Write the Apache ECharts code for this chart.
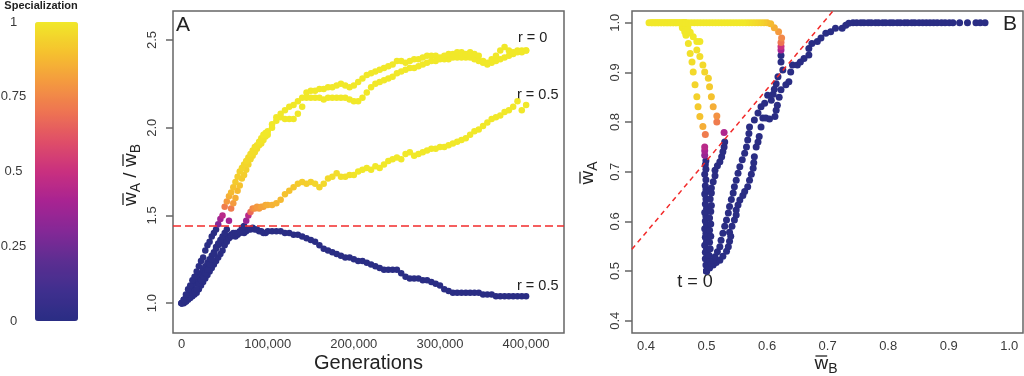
<!DOCTYPE html>
<html>
<head>
<meta charset="utf-8">
<script src="https://cdn.jsdelivr.net/npm/echarts@6/dist/echarts.min.js"></script>
<style>
  html, body { margin: 0; padding: 0; background: #fff; }
  #chart { width: 1024px; height: 376px; }
</style>
</head>
<body>
<div id="chart"></div>
<script>
// ---- panel A: fitness ratio over time ----
const gens = [
  0, 2500, 5000, 7500, 10000, 12500, 15000, 17500, 20000, 22500,
  25000, 27500, 30000, 32500, 35000, 37500, 40000, 42500, 45000, 47500,
  50000, 52500, 55000, 57500, 60000, 62500, 65000, 67500, 70000, 72500,
  75000, 77500, 80000, 82500, 85000, 87500, 90000, 92500, 95000, 97500,
  100000,
  105000, 110000, 115000, 120000, 125000, 130000, 135000, 140000, 145000, 150000,
  155000, 160000, 165000, 170000, 175000, 180000, 185000, 190000, 195000, 200000,
  205000, 210000, 215000, 220000, 225000, 230000, 235000, 240000, 245000, 250000,
  255000, 260000, 265000, 270000, 275000, 280000, 285000, 290000, 295000, 300000,
  305000, 310000, 315000, 320000, 325000, 330000, 335000, 340000, 345000, 350000,
  355000, 360000, 365000, 370000, 375000, 380000, 385000, 390000, 395000, 400000
];

// r = 0, first replicate
const ratioR0a = [
  1.00, 1.02, 1.05, 1.08, 1.10, 1.13, 1.15, 1.18, 1.21, 1.24,
  1.26, 1.30, 1.33, 1.35, 1.38, 1.40, 1.42, 1.45, 1.48, 1.50,
  1.55, 1.58, 1.61, 1.63, 1.66, 1.69, 1.72, 1.75, 1.77, 1.79,
  1.81, 1.83, 1.85, 1.87, 1.89, 1.90, 1.92, 1.94, 1.96, 1.97,
  1.98,
  2.02, 2.06, 2.08, 2.10, 2.12, 2.13, 2.15, 2.17, 2.20, 2.21,
  2.21, 2.22, 2.22, 2.23, 2.23, 2.24, 2.25, 2.24, 2.23, 2.24,
  2.26, 2.28, 2.30, 2.31, 2.32, 2.33, 2.34, 2.35, 2.36, 2.38,
  2.38, 2.37, 2.38, 2.39, 2.39, 2.40, 2.41, 2.41, 2.41, 2.40,
  2.41, 2.42, 2.42, 2.43, 2.43, 2.42, 2.43, 2.42, 2.41, 2.38,
  2.37, 2.39, 2.41, 2.44, 2.46, 2.44, 2.43, 2.44, 2.44, 2.44
];
const specR0a = [
  0, 0, 0, 0, 0, 0, 0, 0, 0, 0,
  0, 0, 0, 0, 0, 0, 0, 0.3, 0.38, 0.45,
  0.72, 0.8, 0.85, 0.88, 0.9, 0.92, 0.93, 0.94, 0.95, 0.95,
  0.96, 0.96, 0.97, 0.97, 0.98, 0.98, 0.99, 0.99, 1, 1,
  1,
  1, 1, 1, 1, 1, 1, 1, 1, 1, 1,
  1, 1, 1, 1, 1, 1, 1, 1, 1, 1,
  1, 1, 1, 1, 1, 1, 1, 1, 1, 1,
  1, 1, 1, 1, 1, 1, 1, 1, 1, 1,
  1, 1, 1, 1, 1, 1, 1, 1, 1, 1,
  1, 1, 1, 1, 1, 1, 1, 1, 1, 1
];

// r = 0, second replicate
const ratioR0b = [
  1.00, 1.01, 1.01, 1.03, 1.05, 1.06, 1.07, 1.08, 1.11, 1.13,
  1.15, 1.17, 1.19, 1.22, 1.25, 1.28, 1.32, 1.34, 1.36, 1.38,
  1.40, 1.42, 1.47, 1.54, 1.57, 1.60, 1.64, 1.67, 1.71, 1.73,
  1.76, 1.79, 1.82, 1.84, 1.86, 1.88, 1.90, 1.91, 1.93, 1.95,
  1.96,
  2.00, 2.04, 2.06, 2.05, 2.05, 2.05, 2.08, 2.12, 2.17, 2.17,
  2.17, 2.17, 2.16, 2.17, 2.17, 2.17, 2.17, 2.17, 2.16, 2.15,
  2.15, 2.17, 2.20, 2.23, 2.25, 2.26, 2.27, 2.28, 2.29, 2.31,
  2.32, 2.33, 2.34, 2.34, 2.35, 2.36, 2.37, 2.38, 2.38, 2.39,
  2.39, 2.39, 2.40, 2.40, 2.40, 2.40, 2.40, 2.39, 2.38, 2.37,
  2.36, 2.37, 2.38, 2.39, 2.40, 2.41, 2.42, 2.43, 2.43, 2.44
];
const specR0b = [
  0, 0, 0, 0, 0, 0, 0, 0, 0, 0,
  0, 0, 0, 0, 0, 0, 0, 0, 0, 0,
  0, 0, 0.4, 0.72, 0.8, 0.85, 0.88, 0.9, 0.92, 0.93,
  0.94, 0.95, 0.96, 0.96, 0.97, 0.97, 0.98, 0.98, 0.99, 0.99,
  1,
  1, 1, 1, 1, 1, 1, 1, 1, 1, 1,
  1, 1, 1, 1, 1, 1, 1, 1, 1, 1,
  1, 1, 1, 1, 1, 1, 1, 1, 1, 1,
  1, 1, 1, 1, 1, 1, 1, 1, 1, 1,
  1, 1, 1, 1, 1, 1, 1, 1, 1, 1,
  1, 1, 1, 1, 1, 1, 1, 1, 1, 1
];

// r = 0.5, run that specializes
const ratioR05s = [
  1.00, 1.00, 1.01, 1.02, 1.03, 1.04, 1.05, 1.06, 1.08, 1.10,
  1.12, 1.14, 1.16, 1.18, 1.20, 1.22, 1.24, 1.26, 1.28, 1.30,
  1.33, 1.35, 1.37, 1.38, 1.39, 1.40, 1.40, 1.41, 1.43, 1.44,
  1.47, 1.50, 1.52, 1.54, 1.54, 1.55, 1.54, 1.55, 1.55, 1.56,
  1.56,
  1.56, 1.57, 1.59, 1.62, 1.64, 1.66, 1.68, 1.69, 1.68, 1.69,
  1.68, 1.66, 1.68, 1.71, 1.72, 1.74, 1.72, 1.72, 1.73, 1.73,
  1.75, 1.76, 1.77, 1.76, 1.78, 1.77, 1.79, 1.81, 1.82, 1.83,
  1.82, 1.85, 1.86, 1.84, 1.85, 1.86, 1.87, 1.88, 1.88, 1.89,
  1.89, 1.90, 1.91, 1.92, 1.93, 1.94, 1.96, 1.98, 1.99, 2.01,
  2.03, 2.05, 2.06, 2.07, 2.09, 2.10, 2.12, 2.15, 2.10, 2.13
];
const specR05s = [
  0, 0, 0, 0, 0, 0, 0, 0, 0, 0,
  0, 0, 0, 0, 0, 0, 0, 0, 0, 0,
  0, 0, 0, 0, 0, 0, 0, 0, 0, 0,
  0.35, 0.45, 0.68, 0.75, 0.78, 0.8, 0.8, 0.82, 0.82, 0.84,
  0.85,
  0.86, 0.87, 0.88, 0.9, 0.9, 0.91, 0.92, 0.93, 0.93, 0.94,
  0.95, 0.95, 0.96, 0.96, 0.97, 0.97, 0.98, 0.98, 0.98, 0.99,
  1, 1, 1, 1, 1, 1, 1, 1, 1, 1,
  1, 1, 1, 1, 1, 1, 1, 1, 1, 1,
  1, 1, 1, 1, 1, 1, 1, 1, 1, 1,
  1, 1, 1, 1, 1, 1, 1, 1, 1, 1
];

// r = 0.5, run that stays generalist
const ratioR05u = [
  1.00, 1.02, 1.03, 1.05, 1.07, 1.09, 1.11, 1.13, 1.15, 1.17,
  1.19, 1.21, 1.23, 1.25, 1.27, 1.29, 1.31, 1.33, 1.34, 1.36,
  1.37, 1.38, 1.38, 1.39, 1.40, 1.38, 1.39, 1.40, 1.41, 1.40,
  1.41, 1.42, 1.42, 1.43, 1.42, 1.42, 1.41, 1.41, 1.40, 1.40,
  1.41,
  1.41, 1.41, 1.41, 1.40, 1.40, 1.39, 1.39, 1.38, 1.37, 1.36,
  1.35, 1.33, 1.31, 1.30, 1.29, 1.28, 1.27, 1.26, 1.26, 1.25,
  1.24, 1.24, 1.23, 1.22, 1.21, 1.20, 1.19, 1.19, 1.19, 1.19,
  1.17, 1.15, 1.14, 1.14, 1.14, 1.13, 1.13, 1.12, 1.11, 1.10,
  1.08, 1.07, 1.06, 1.06, 1.06, 1.06, 1.06, 1.06, 1.06, 1.05,
  1.05, 1.05, 1.04, 1.04, 1.04, 1.04, 1.04, 1.04, 1.04, 1.04
];
const specR05u = gens.map(() => 0);

// ---- panel B: [wB, wA, specialization] along each run ----
const bR05u = [
  [0.500, 0.500, 0], [0.505, 0.506, 0], [0.511, 0.512, 0], [0.516, 0.517, 0], [0.522, 0.522, 0],
  [0.527, 0.530, 0], [0.533, 0.540, 0], [0.536, 0.549, 0], [0.538, 0.560, 0], [0.540, 0.570, 0],
  [0.538, 0.578, 0], [0.542, 0.590, 0], [0.546, 0.603, 0], [0.549, 0.613, 0], [0.549, 0.623, 0],
  [0.552, 0.633, 0], [0.555, 0.643, 0], [0.560, 0.652, 0], [0.563, 0.660, 0], [0.568, 0.670, 0],
  [0.571, 0.683, 0], [0.574, 0.695, 0], [0.577, 0.707, 0], [0.578, 0.718, 0], [0.579, 0.730, 0],
  [0.582, 0.750, 0], [0.585, 0.760, 0], [0.587, 0.771, 0], [0.590, 0.790, 0], [0.593, 0.808, 0],
  [0.598, 0.808, 0], [0.604, 0.806, 0], [0.613, 0.811, 0], [0.615, 0.824, 0], [0.617, 0.834, 0],
  [0.620, 0.850, 0], [0.623, 0.865, 0], [0.631, 0.875, 0], [0.636, 0.881, 0], [0.639, 0.901, 0],
  [0.642, 0.915, 0], [0.650, 0.915, 0], [0.655, 0.921, 0], [0.661, 0.928, 0], [0.669, 0.935, 0],
  [0.669, 0.948, 0], [0.674, 0.958, 0], [0.683, 0.962, 0], [0.689, 0.969, 0], [0.697, 0.979, 0],
  [0.705, 0.982, 0], [0.713, 0.989, 0], [0.724, 0.989, 0], [0.730, 0.995, 0], [0.735, 0.999, 0],
  [0.742, 1.000, 0], [0.748, 1.000, 0], [0.755, 1.000, 0], [0.760, 1.000, 0], [0.767, 1.000, 0],
  [0.772, 1.000, 0], [0.779, 1.000, 0], [0.784, 1.000, 0], [0.791, 1.000, 0], [0.796, 1.000, 0],
  [0.803, 1.000, 0], [0.808, 1.000, 0], [0.815, 1.000, 0], [0.820, 1.000, 0], [0.827, 1.000, 0],
  [0.832, 1.000, 0], [0.839, 1.000, 0], [0.844, 1.000, 0], [0.851, 1.000, 0], [0.857, 1.000, 0],
  [0.863, 1.000, 0], [0.869, 1.000, 0], [0.875, 1.000, 0], [0.881, 1.000, 0], [0.888, 1.000, 0],
  [0.894, 1.000, 0], [0.901, 1.000, 0], [0.907, 1.000, 0], [0.918, 1.000, 0], [0.931, 1.000, 0],
  [0.945, 1.000, 0], [0.952, 1.000, 0], [0.960, 1.000, 0]
];
const bR05s = [
  [0.500, 0.500, 0], [0.503, 0.506, 0], [0.499, 0.512, 0], [0.502, 0.518, 0], [0.498, 0.525, 0],
  [0.501, 0.531, 0], [0.498, 0.538, 0], [0.500, 0.545, 0], [0.497, 0.552, 0], [0.500, 0.560, 0],
  [0.498, 0.568, 0], [0.499, 0.576, 0], [0.497, 0.585, 0], [0.500, 0.593, 0], [0.498, 0.601, 0],
  [0.499, 0.610, 0], [0.497, 0.618, 0], [0.500, 0.626, 0], [0.498, 0.635, 0], [0.499, 0.645, 0],
  [0.497, 0.655, 0], [0.499, 0.663, 0], [0.498, 0.672, 0], [0.499, 0.684, 0], [0.497, 0.695, 0],
  [0.499, 0.705, 0], [0.498, 0.714, 0], [0.499, 0.722, 0], [0.497, 0.733, 0.35], [0.497, 0.742, 0.4],
  [0.497, 0.750, 0.45], [0.498, 0.775, 0.72], [0.494, 0.791, 0.85], [0.489, 0.811, 0.9], [0.486, 0.831, 0.92],
  [0.484, 0.851, 0.94], [0.481, 0.875, 0.95], [0.478, 0.901, 0.96], [0.476, 0.921, 0.97], [0.473, 0.938, 0.98],
  [0.470, 0.958, 0.99], [0.469, 0.979, 1], [0.467, 0.995, 1], [0.465, 1.000, 1], [0.468, 0.988, 1],
  [0.463, 0.995, 1], [0.466, 0.975, 1], [0.462, 1.000, 1], [0.460, 0.990, 1], [0.464, 0.982, 1]
];
const bR0a = [
  [0.500, 0.500, 0], [0.504, 0.510, 0], [0.506, 0.520, 0], [0.504, 0.532, 0], [0.506, 0.545, 0],
  [0.505, 0.558, 0], [0.507, 0.570, 0], [0.505, 0.582, 0], [0.507, 0.595, 0], [0.505, 0.607, 0],
  [0.507, 0.620, 0], [0.508, 0.632, 0], [0.506, 0.645, 0], [0.508, 0.657, 0], [0.508, 0.667, 0],
  [0.511, 0.680, 0], [0.514, 0.692, 0], [0.514, 0.703, 0], [0.518, 0.712, 0], [0.522, 0.720, 0],
  [0.525, 0.730, 0], [0.527, 0.740, 0], [0.529, 0.750, 0], [0.530, 0.760, 0], [0.529, 0.779, 0.42],
  [0.517, 0.800, 0.72], [0.517, 0.812, 0.78], [0.511, 0.831, 0.85], [0.508, 0.851, 0.9], [0.505, 0.871, 0.92],
  [0.503, 0.888, 0.94], [0.497, 0.901, 0.95], [0.494, 0.915, 0.96], [0.489, 0.932, 0.97], [0.484, 0.945, 0.98],
  [0.489, 0.962, 1], [0.484, 0.962, 1], [0.478, 0.972, 1], [0.473, 0.981, 1], [0.469, 0.990, 1],
  [0.465, 1.000, 1], [0.461, 1.000, 1], [0.457, 1.000, 1], [0.453, 1.000, 1], [0.449, 1.000, 1],
  [0.445, 1.000, 1], [0.441, 1.000, 1], [0.437, 1.000, 1], [0.433, 1.000, 1], [0.429, 1.000, 1],
  [0.425, 1.000, 1], [0.421, 1.000, 1], [0.417, 1.000, 1], [0.413, 1.000, 1], [0.409, 1.000, 1],
  [0.405, 1.000, 1]
];
const bR0b = [
  [0.500, 0.500, 0], [0.504, 0.507, 0], [0.508, 0.515, 0], [0.511, 0.522, 0], [0.514, 0.529, 0],
  [0.518, 0.539, 0], [0.522, 0.549, 0], [0.524, 0.562, 0], [0.527, 0.576, 0], [0.530, 0.590, 0],
  [0.533, 0.603, 0], [0.536, 0.617, 0], [0.538, 0.630, 0], [0.541, 0.644, 0], [0.544, 0.657, 0],
  [0.546, 0.670, 0], [0.549, 0.683, 0], [0.552, 0.697, 0], [0.555, 0.710, 0], [0.559, 0.724, 0],
  [0.563, 0.737, 0], [0.566, 0.750, 0], [0.568, 0.764, 0], [0.570, 0.777, 0], [0.571, 0.790, 0],
  [0.579, 0.804, 0], [0.585, 0.818, 0], [0.590, 0.831, 0], [0.596, 0.838, 0], [0.601, 0.854, 0],
  [0.607, 0.844, 0], [0.610, 0.856, 0], [0.612, 0.866, 0], [0.615, 0.877, 0], [0.618, 0.891, 0],
  [0.626, 0.905, 0], [0.623, 0.921, 0], [0.623, 0.934, 0], [0.623, 0.945, 0.4], [0.623, 0.952, 0.5],
  [0.623, 0.960, 0.7], [0.624, 0.969, 0.75], [0.619, 0.982, 0.8], [0.612, 0.990, 0.85], [0.606, 0.998, 0.88],
  [0.600, 1.000, 0.9], [0.595, 1.000, 0.92], [0.590, 1.000, 0.94], [0.585, 1.000, 0.95], [0.580, 1.000, 0.96],
  [0.575, 1.000, 0.97], [0.570, 1.000, 0.98], [0.565, 1.000, 0.99], [0.560, 1.000, 1], [0.555, 1.000, 1],
  [0.550, 1.000, 1], [0.545, 1.000, 1], [0.540, 1.000, 1], [0.535, 1.000, 1], [0.530, 1.000, 1],
  [0.525, 1.000, 1], [0.520, 1.000, 1], [0.515, 1.000, 1], [0.510, 1.000, 1], [0.505, 1.000, 1],
  [0.500, 1.000, 1], [0.495, 1.000, 1], [0.490, 1.000, 1], [0.485, 1.000, 1], [0.480, 1.000, 1],
  [0.475, 1.000, 1], [0.470, 1.000, 1], [0.465, 1.000, 1], [0.460, 1.000, 1], [0.455, 1.000, 1],
  [0.450, 1.000, 1], [0.445, 1.000, 1], [0.440, 1.000, 1], [0.435, 1.000, 1], [0.430, 1.000, 1],
  [0.425, 1.000, 1], [0.420, 1.000, 1], [0.415, 1.000, 1], [0.410, 1.000, 1]
];

// threshold ratio (dashed red lines in both panels)
const threshold = 1.444;

// ticks
const genTicks = [0, 100000, 200000, 300000, 400000];
const ratioTicks = [1.0, 1.5, 2.0, 2.5];
const wTicks = [0.4, 0.5, 0.6, 0.7, 0.8, 0.9, 1.0];
const specTicks = [0, 0.25, 0.5, 0.75, 1];

// colour key for specialization 0 -> 1
const specColors = ['#2a2d84', '#3f2f8e', '#5c2e91', '#842896', '#a82392', '#c9307f',
  '#df4e68', '#ee7452', '#f49a3f', '#f5c22e', '#f1e829'];

const FONT = '"Liberation Sans", Arial, sans-serif';
const boxColor = '#666';
const labelColor = '#3a3a3a';

function thousands(v) {
  return String(v).replace(/\B(?=(\d{3})+(?!\d))/g, ',');
}

function zip(xs, ys, ss) {
  return xs.map((x, i) => [x, ys[i], ss[i]]);
}

// text with an overlined "w" and subscripts, laid out from left to right
const measure = document.createElement('canvas').getContext('2d');
function textWidth(s, size) {
  measure.font = size + 'px ' + FONT;
  return measure.measureText(s).width;
}
function barLabel(pieces, x, y, rotation) {
  let total = 0;
  pieces.forEach(p => {
    p.size = p.sub ? 14 : 19;
    p.w = textWidth(p.t, p.size);
    total += p.w;
  });
  let cx = -total / 2;
  const children = [];
  pieces.forEach(p => {
    children.push({
      type: 'text', x: cx, y: p.sub ? 5 : 0,
      style: { text: p.t, font: p.size + 'px ' + FONT, fill: '#222',
        align: 'left', textAlign: 'left', verticalAlign: 'middle', textVerticalAlign: 'middle' }
    });
    if (p.bar) {
      children.push({
        type: 'line',
        shape: { x1: cx + 1, y1: -8, x2: cx + p.w - 1, y2: -8 },
        style: { stroke: '#222', lineWidth: 1.3 }
      });
    }
    cx += p.w;
  });
  return { type: 'group', x: x, y: y, rotation: rotation, children: children };
}

function note(text, x, y, size, align, weight) {
  return {
    type: 'text', x: x, y: y,
    style: { text: text, font: (weight || '') + ' ' + size + 'px ' + FONT, fill: '#222',
      align: align, textAlign: align, verticalAlign: 'middle', textVerticalAlign: 'middle' }
  };
}

function dots(name, xi, data, size) {
  return {
    name: name, type: 'scatter', xAxisIndex: xi, yAxisIndex: xi,
    data: data, symbolSize: size, itemStyle: { opacity: 1 },
    emphasis: { disabled: true }, silent: true
  };
}

const tickStyle = { color: boxColor, width: 1.5 };

const option = {
  animation: false,
  backgroundColor: '#fff',
  textStyle: { fontFamily: FONT },
  grid: [
    { left: 173, top: 11, width: 391, height: 322, show: true, borderColor: boxColor, borderWidth: 1.5,
      containLabel: false, outerBoundsMode: 'none' },
    { left: 632, top: 11, width: 391, height: 322, show: true, borderColor: boxColor, borderWidth: 1.5,
      containLabel: false, outerBoundsMode: 'none' },
    { left: 35, top: 22, width: 43, height: 299, containLabel: false, outerBoundsMode: 'none' }
  ],
  xAxis: [
    {
      gridIndex: 0, type: 'value', min: -10000, max: 444000,
      splitLine: { show: false }, axisLine: { show: false, onZero: false }, axisTick: { show: false },
      axisLabel: { customValues: genTicks, formatter: thousands, fontSize: 13, color: labelColor, margin: 5 },
      name: 'Generations', nameLocation: 'middle', nameGap: 20, nameMoveOverlap: false,
      nameTextStyle: { fontSize: 20, color: '#222', fontFamily: FONT }
    },
    {
      gridIndex: 1, type: 'value', min: 0.3769, max: 1.0227,
      splitLine: { show: false }, axisLine: { show: false, onZero: false }, axisTick: { show: false },
      axisLabel: { customValues: wTicks, formatter: v => v.toFixed(1), fontSize: 13, color: labelColor, margin: 7 }
    },
    { gridIndex: 2, type: 'value', min: 0, max: 1, show: false }
  ],
  yAxis: [
    {
      gridIndex: 0, type: 'value', min: 0.83, max: 2.665,
      splitLine: { show: false }, axisLine: { show: false, onZero: false },
      axisTick: { show: true, customValues: ratioTicks, length: 7, lineStyle: tickStyle },
      axisLabel: { customValues: ratioTicks, rotate: 90, margin: 14, formatter: v => v.toFixed(1),
        fontSize: 13, color: labelColor }
    },
    {
      gridIndex: 1, type: 'value', min: 0.3753, max: 1.0236,
      splitLine: { show: false }, axisLine: { show: false, onZero: false },
      axisTick: { show: true, customValues: wTicks, length: 7, lineStyle: tickStyle },
      axisLabel: { customValues: wTicks, rotate: 90, margin: 10.5, formatter: v => v.toFixed(1),
        fontSize: 13, color: labelColor }
    },
    {
      gridIndex: 2, type: 'value', min: 0, max: 1,
      splitLine: { show: false }, axisLine: { show: false, onZero: false }, axisTick: { show: false },
      axisLabel: { customValues: specTicks, formatter: v => String(v), align: 'center', margin: 21.5,
        fontSize: 13, color: labelColor }
    }
  ],
  visualMap: {
    type: 'continuous', min: 0, max: 1, dimension: 2,
    seriesIndex: [0, 1, 2, 3, 5, 6, 7, 8],
    inRange: { color: specColors },
    orient: 'vertical', left: 35, top: 22, itemWidth: 43, itemHeight: 299,
    padding: 0, text: null, calculable: false, hoverLink: false, realtime: false
  },
  series: [
    Object.assign(dots('A r=0.5 generalist', 0, zip(gens, ratioR05u, specR05u), 6.5), {
      markLine: {
        silent: true, symbol: 'none', label: { show: false }, z: 10,
        lineStyle: { color: '#f22b2b', type: [8, 4], width: 1.6 },
        data: [{ yAxis: threshold }]
      }
    }),
    dots('A r=0.5 specialist', 0, zip(gens, ratioR05s, specR05s), 6.5),
    dots('A r=0 b', 0, zip(gens, ratioR0b, specR0b), 6.5),
    dots('A r=0 a', 0, zip(gens, ratioR0a, specR0a), 6.5),
    {
      type: 'line', xAxisIndex: 1, yAxisIndex: 1, z: 10, silent: true,
      showSymbol: false, clip: true,
      lineStyle: { color: '#f22b2b', type: [5, 4], width: 1.5 },
      data: [[0.3, 0.3 * threshold], [0.8, 0.8 * threshold]]
    },
    dots('B r=0.5 generalist', 1, bR05u, 7),
    dots('B r=0.5 specialist', 1, bR05s, 7),
    dots('B r=0 a', 1, bR0a, 7),
    dots('B r=0 b', 1, bR0b, 7)
  ],
  graphic: [
    note('Specialization', 41, 6, 11, 'center', 'bold'),
    note('A', 183, 25, 21, 'center'),
    note('B', 1010, 24, 21, 'center'),
    note('r = 0', 518, 38, 14.5, 'left'),
    note('r = 0.5', 517, 95, 14.5, 'left'),
    note('r = 0.5', 517, 286, 14.5, 'left'),
    note('t = 0', 695, 282, 18, 'center'),
    barLabel([{ t: 'w', bar: true }, { t: 'A', sub: true }, { t: ' / ' }, { t: 'w', bar: true }, { t: 'B', sub: true }],
      131, 175, Math.PI / 2),
    barLabel([{ t: 'w', bar: true }, { t: 'A', sub: true }], 588, 173, Math.PI / 2),
    barLabel([{ t: 'w', bar: true }, { t: 'B', sub: true }], 826, 364, 0)
  ]
};

const chart = echarts.init(document.getElementById('chart'), null, { renderer: 'canvas' });
chart.setOption(option);
</script>
</body>
</html>
